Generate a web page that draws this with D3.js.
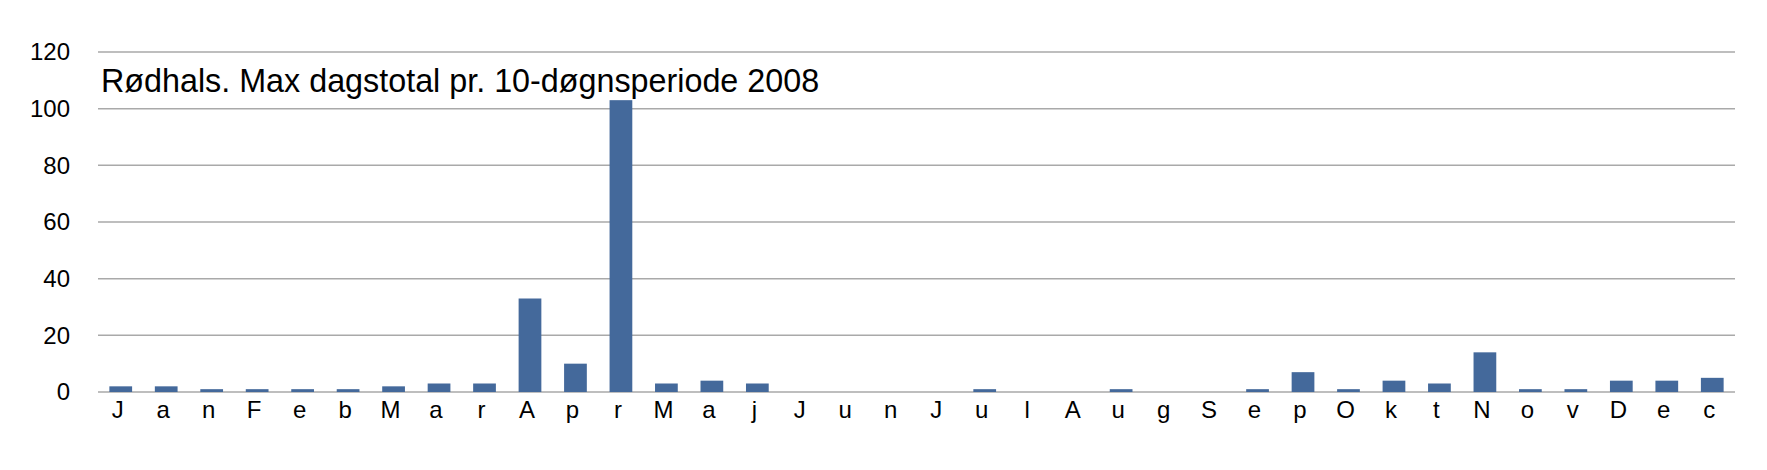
<!DOCTYPE html>
<html>
<head>
<meta charset="utf-8">
<script src="https://cdn.jsdelivr.net/npm/d3@7"></script>
<style>
html,body{margin:0;padding:0;background:#fff;}
svg{display:block;font-family:"Liberation Sans",Arial,Helvetica,sans-serif;}
</style>
</head>
<body>
<svg id="chart" width="1767" height="470"></svg>
<script>
const categories = ["J","a","n","F","e","b","M","a","r","A","p","r","M","a","j","J","u","n","J","u","l","A","u","g","S","e","p","O","k","t","N","o","v","D","e","c"];
const values = [2,2,1,1,1,1,2,3,3,33,10,103,3,4,3,0,0,0,0,1,0,0,1,0,0,1,7,1,4,3,14,1,1,4,4,5];
const yTicks = [0,20,40,60,80,100,120];
const title = "Rødhals. Max dagstotal pr. 10-døgnsperiode 2008";

const svg = d3.select("#chart");
const margin = {left: 98, right: 32, top: 52, bottom: 78};
const W = 1767, H = 470;
const x = d3.scaleBand().domain(d3.range(categories.length)).range([margin.left, W - margin.right]).paddingInner(0.5).paddingOuter(0.25);
const y = d3.scaleLinear().domain([0,120]).range([H - margin.bottom, margin.top]);

// gridlines
svg.append("g").selectAll("line").data(yTicks).join("line")
  .attr("x1", margin.left).attr("x2", W - margin.right)
  .attr("y1", d => y(d)).attr("y2", d => y(d))
  .attr("stroke", "#a9a9a9").attr("stroke-width", 1.5);

// y axis labels
const yAxis = d3.axisLeft(y).tickValues(yTicks).tickSize(0).tickPadding(0);
const gy = svg.append("g").attr("transform", `translate(${margin.left - 28},0)`).call(yAxis);
gy.select(".domain").remove();
gy.selectAll("text").attr("font-size", 24).attr("fill", "#000").attr("font-family", "Liberation Sans, Arial, sans-serif");

// bars
svg.append("g").selectAll("rect").data(values).join("rect")
  .attr("x", (d,i) => x(i)).attr("width", x.bandwidth())
  .attr("y", d => y(d)).attr("height", d => y(0) - y(d))
  .attr("fill", "#44699b");

// x labels
const xAxis = d3.axisBottom(x).tickFormat(i => categories[i]).tickSize(0).tickPadding(0);
const gx = svg.append("g").attr("transform", `translate(-3,${y(0) + 9})`).call(xAxis);
gx.select(".domain").remove();
gx.selectAll("text").attr("font-size", 24).attr("fill", "#000").attr("dy", "0.71em").attr("font-family", "Liberation Sans, Arial, sans-serif");

// title
svg.append("text").attr("x", 101).attr("y", 92).attr("font-size", 32.3).attr("fill", "#000").text(title);
</script>
</body>
</html>
